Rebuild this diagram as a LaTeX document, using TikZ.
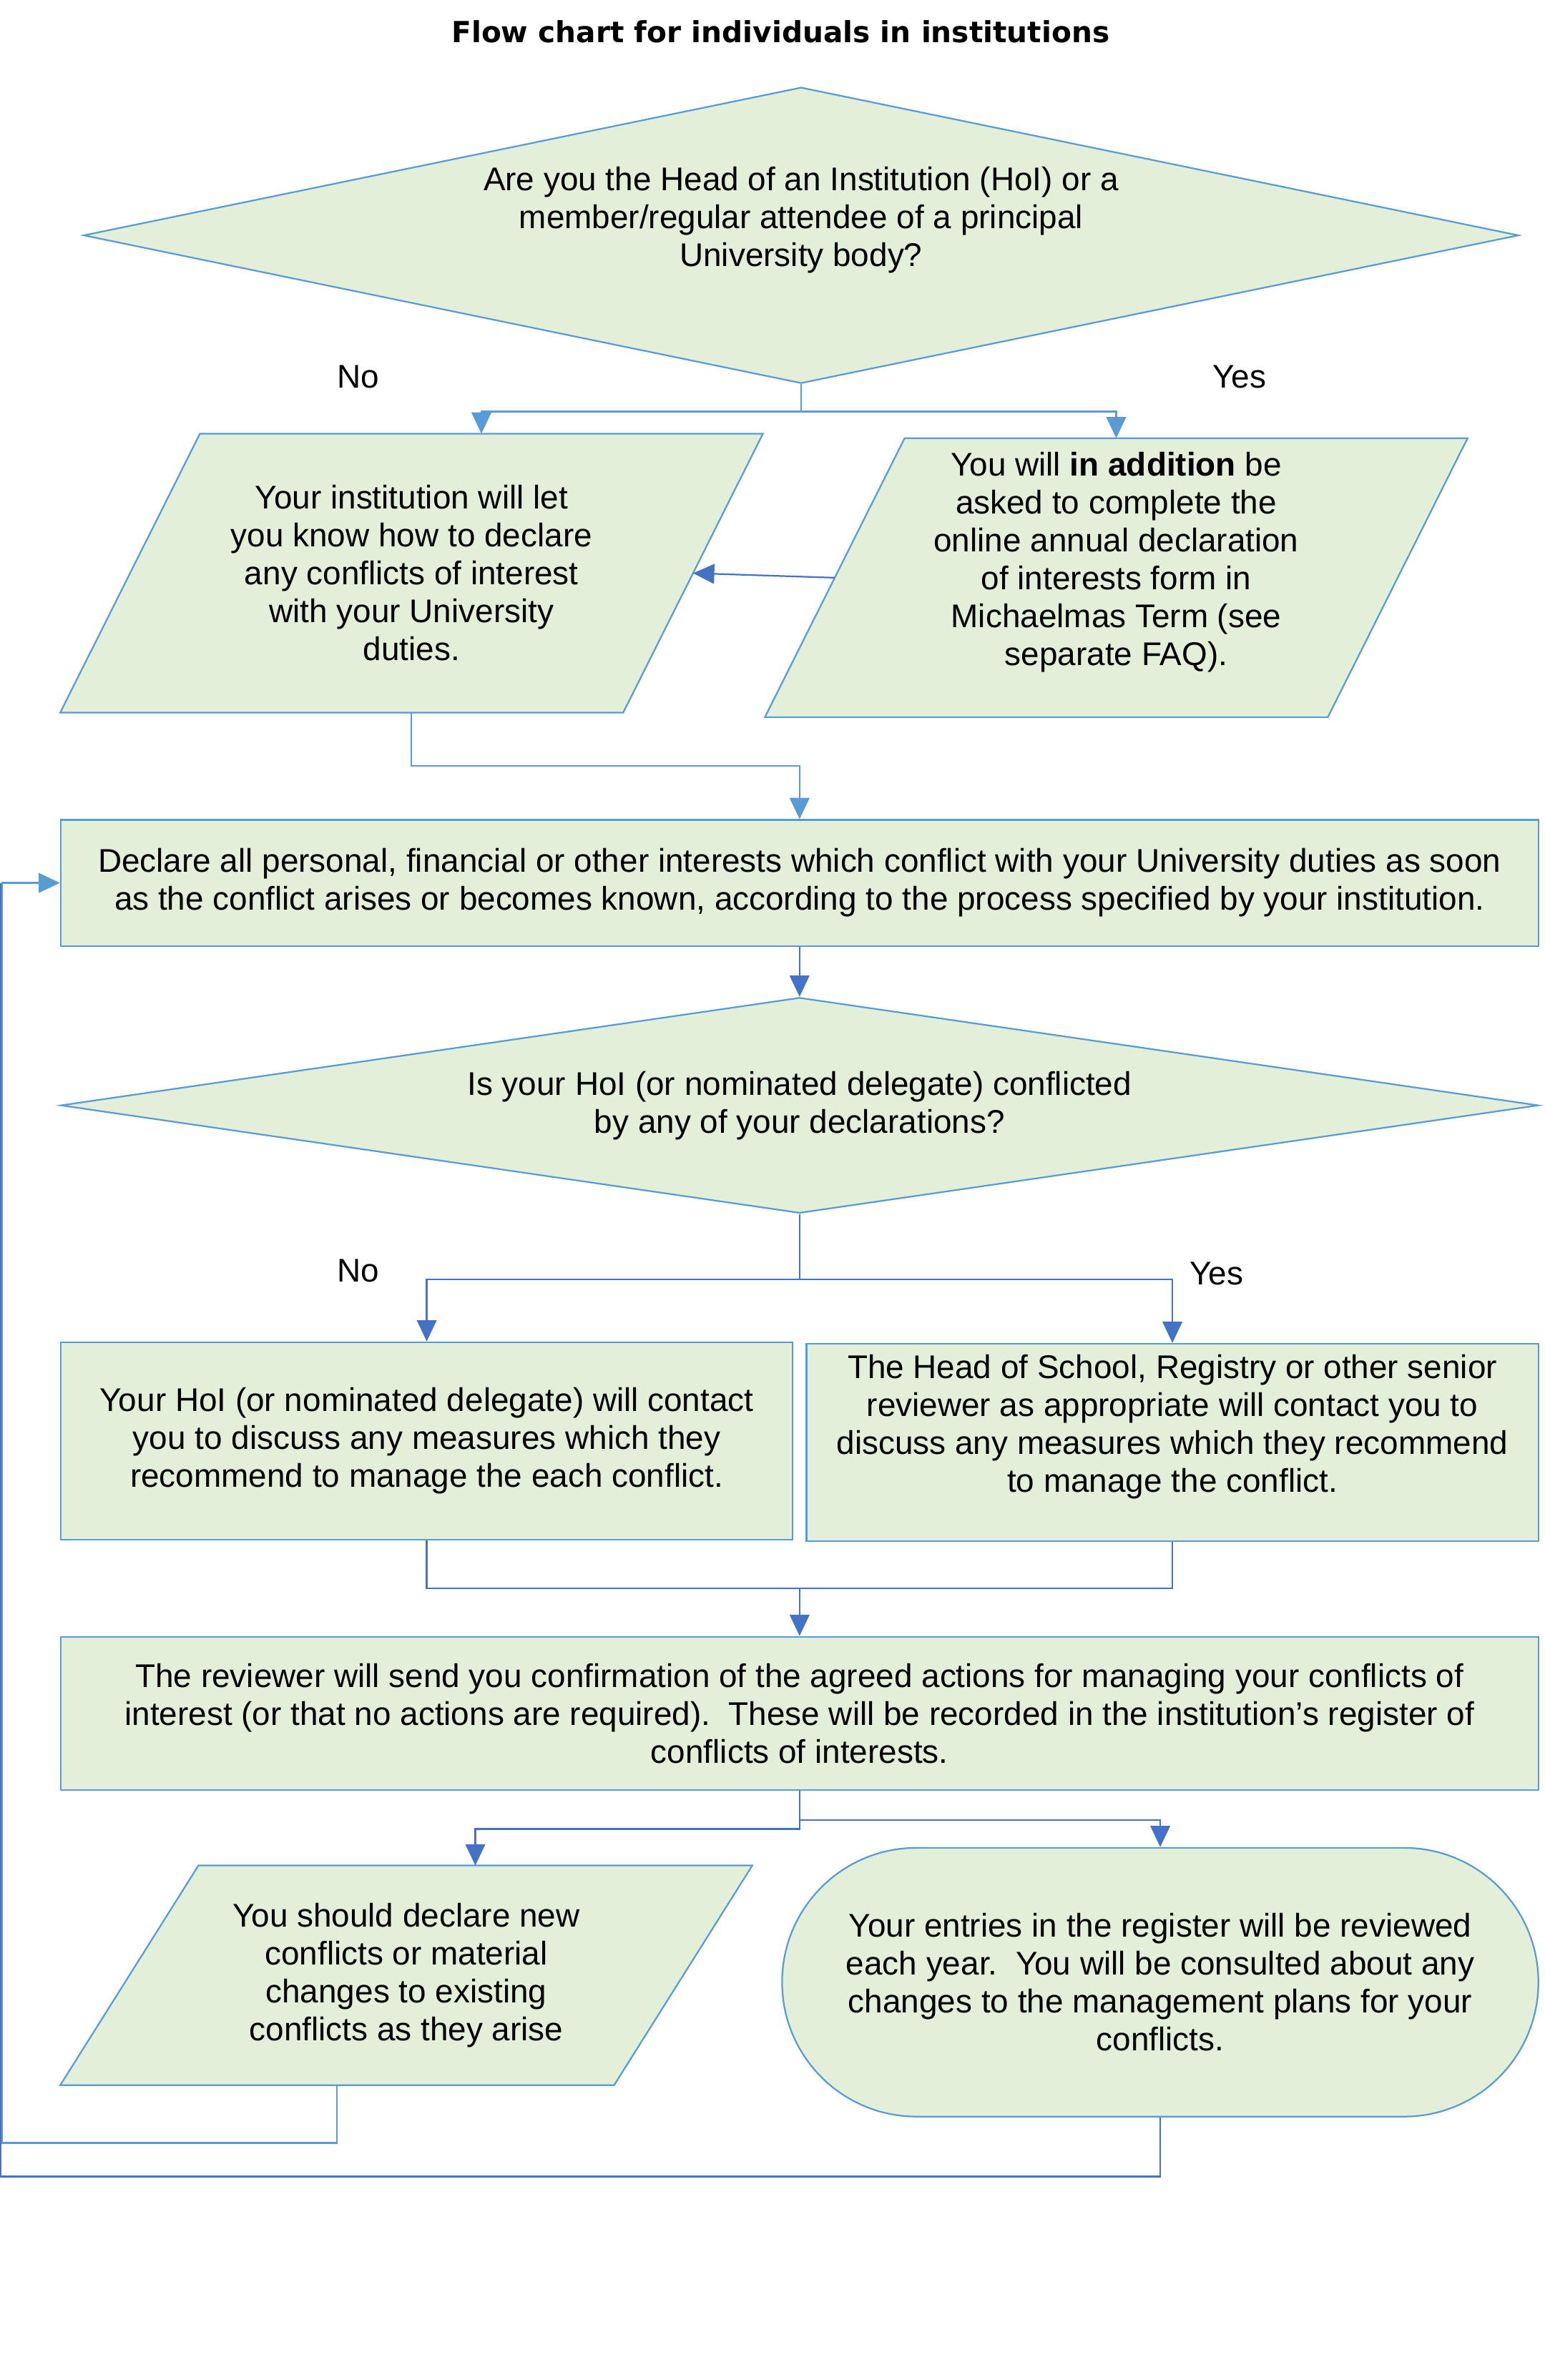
\documentclass[tikz,border=0pt]{standalone}
\usepackage{fontspec}
\setmainfont{Liberation Sans}
\newfontfamily\headfont{DejaVu Sans}
\usetikzlibrary{arrows.meta,shapes.geometric,shapes.misc,backgrounds}
\definecolor{fcfill}{HTML}{E2EFD9}
\definecolor{fcedge}{HTML}{5B9BD5}
\definecolor{fcdark}{HTML}{4472C4}
\tikzset{
  fcnode/.style = {align=center, inner sep=0pt, text centered,
    font=\fontsize{12.3}{14.2}\selectfont},
  fc_box/.style = {fcnode, rectangle, draw=fcedge, fill=fcfill,
    line width=0.6pt},% flow chart, process box
  fc_dec/.style = {fcnode, diamond, shape aspect=4.8, draw=fcedge,
    fill=fcfill, line width=0.6pt},% flow chart, decision
  fc_io/.style = {fcnode, rectangle},% flow chart, data (outline drawn below)
  fc_par/.style = {draw=fcedge, fill=fcfill, line width=0.6pt},% data outline
  fc_end/.style = {fcnode, rounded rectangle, draw=fcedge, fill=fcfill,
    line width=0.6pt},% flow chart, terminator
  fc_lbl/.style = {fcnode},% yes / no
  fc_l1/.style = {draw=fcedge, line width=0.6pt},% light connector
  fc_l2/.style = {draw=fcdark, line width=0.6pt}% dark connector
}

\begin{document}
\begin{tikzpicture}[>={Triangle[width=0.26cm,length=0.28cm]}]

	\useasboundingbox (0,0) rectangle (20.34,-31.35);

	\node [fcnode, font=\headfont\bfseries\fontsize{10.9}{12}\selectfont] (title) at (10.28,-0.42)
		{Flow chart for individuals in institutions};

	\node [fc_dec, minimum width=18.9cm, minimum height=3.9cm] (qhead) at (10.55,-3.10)
		{Are you the Head of an Institution (HoI) or a\\member/regular attendee of a principal\\University body?\\\mbox{}};
	\node [fc_lbl] (no1) at (4.72,-4.96) {No};
	\node [fc_lbl] (yes1) at (16.32,-4.96) {Yes};

	\node [fc_io, minimum width=9.24cm, minimum height=3.66cm] (local) at (5.42,-7.55)
		{Your institution will let\\you know how to declare\\any conflicts of interest\\with your University\\duties.};
	\node [fc_io, minimum width=9.24cm, minimum height=3.66cm] (annual) at (14.70,-7.61)
		{You will \textbf{in addition} be\\asked to complete the\\online annual declaration\\of interests form in\\Michaelmas Term (see\\separate FAQ).\\\mbox{}};

	\node [fc_box, minimum width=19.46cm, minimum height=1.66cm] (declare) at (10.53,-11.63)
		{Declare all personal, financial or other interests which conflict with your University duties as soon\\as the conflict arises or becomes known, according to the process specified by your institution.};

	\node [fc_dec, minimum width=19.46cm, minimum height=2.84cm] (qconf) at (10.53,-14.56)
		{Is your HoI (or nominated delegate) conflicted\\by any of your declarations?};
	\node [fc_lbl] (no2) at (4.72,-16.74) {No};
	\node [fc_lbl] (yes2) at (16.02,-16.78) {Yes};

	\node [fc_box, minimum width=9.64cm, minimum height=2.6cm] (hoi) at (5.62,-18.98)
		{Your HoI (or nominated delegate) will contact\\you to discuss any measures which they\\recommend to manage the each conflict.};
	\node [fc_box, minimum width=9.64cm, minimum height=2.6cm] (senior) at (15.44,-19.00)
		{The Head of School, Registry or other senior\\reviewer as appropriate will contact you to\\discuss any measures which they recommend\\to manage the conflict.\\\mbox{}};

	\node [fc_box, minimum width=19.46cm, minimum height=2.02cm] (confirm) at (10.53,-22.57)
		{The reviewer will send you confirmation of the agreed actions for managing your conflicts of\\interest (or that no actions are required).\ \ These will be recorded in the institution’s register of\\conflicts of interests.};

	\node [fc_io, minimum width=9.1cm, minimum height=2.88cm] (newdecl) at (5.35,-26.02)
		{You should declare new\\conflicts or material\\changes to existing\\conflicts as they arise};
	\node [fc_end, minimum width=9.96cm, minimum height=3.54cm] (review) at (15.28,-26.11)
		{Your entries in the register will be reviewed\\each year.\ \ You will be consulted about any\\changes to the management plans for your\\conflicts.};

	% parallelogram outlines behind the data nodes
	\begin{scope}[on background layer]
		\draw [fc_par] ([xshift=1.84cm]local.north west) -- (local.north east)
			-- ([xshift=-1.84cm]local.south east) -- (local.south west) -- cycle;
		\draw [fc_par] ([xshift=1.84cm]annual.north west) -- (annual.north east)
			-- ([xshift=-1.84cm]annual.south east) -- (annual.south west) -- cycle;
		\draw [fc_par] ([xshift=1.82cm]newdecl.north west) -- (newdecl.north east)
			-- ([xshift=-1.82cm]newdecl.south east) -- (newdecl.south west) -- cycle;
	\end{scope}

	% connectors
	\draw [fc_l1, ->] (qhead.south) -- ++(0,-0.36) coordinate (split1) -| ([xshift=0.92cm]local.north);
	\draw [fc_l1, ->] (split1) -| (annual.north);
	\draw [fc_l2, ->] ([xshift=0.92cm]annual.west) -- ([xshift=-0.92cm]local.east);
	\draw [fc_l1, ->] (local.south) -- ++(0,-0.70) -| (declare.north);
	\draw [fc_l2, ->] (declare.south) -- (qconf.north);
	\draw [fc_l2, ->] (qconf.south) -- ++(0,-0.86) coordinate (split2) -| (hoi.north);
	\draw [fc_l2, ->] (split2) -| (senior.north);
	\coordinate (join) at (10.53,-20.92);
	\draw [fc_l2] (hoi.south) |- (join);
	\draw [fc_l2] (senior.south) |- (join);
	\draw [fc_l2, ->] (join) -- (confirm.north);
	\draw [fc_l2, ->] (confirm.south) -- ++(0,-0.38) -| (review.north);
	\draw [fc_l2, ->] (confirm.south) -- ++(0,-0.50) -| ([xshift=0.91cm]newdecl.north);
	\draw [fc_l1, ->] ([xshift=-0.91cm]newdecl.south) -- ++(0,-0.76) -| ([xshift=-0.76cm]declare.west) -- (declare.west);
	\draw [fc_l2] (review.south) -- ++(0,-0.78) -| ([xshift=-0.78cm]declare.west);

\end{tikzpicture}
\end{document}
